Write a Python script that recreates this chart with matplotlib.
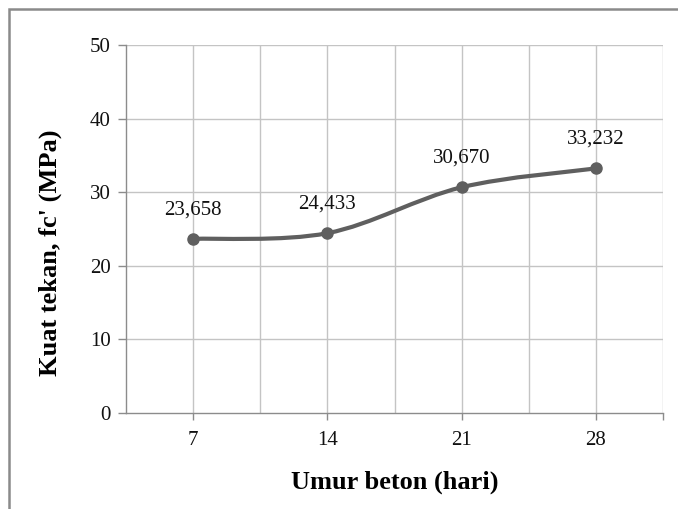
import matplotlib
matplotlib.use("Agg")
import matplotlib.pyplot as plt
from matplotlib.path import Path
from matplotlib.patches import PathPatch, Rectangle
import numpy as np

# Compressive strength by concrete age
umur = ["7", "14", "21", "28"]
kuat_tekan = [23.658, 24.433, 30.670, 33.232]
label_nilai = ["23,658", "24,433", "30,670", "33,232"]
y_ticks = [0, 10, 20, 30, 40, 50]

plt.rcParams['font.family'] = ['Liberation Serif', 'DejaVu Serif']

fig = plt.figure(figsize=(6.78, 5.09), dpi=100)
ax = fig.add_axes([126 / 678, 1 - 413 / 509, (663 - 126) / 678, (413 - 45) / 509])

x = np.arange(len(umur), dtype=float)
y = np.array(kuat_tekan)

# Smoothed line as cubic Bezier segments (Excel-style smoothing)
verts = [(x[0], y[0])]
codes = [Path.MOVETO]
n = len(x)
for i in range(n - 1):
    p0 = np.array([x[max(i - 1, 0)], y[max(i - 1, 0)]])
    p1 = np.array([x[i], y[i]])
    p2 = np.array([x[i + 1], y[i + 1]])
    p3 = np.array([x[min(i + 2, n - 1)], y[min(i + 2, n - 1)]])
    c1 = p1 + (p2 - p0) / 6.0
    c2 = p2 - (p3 - p1) / 6.0
    verts += [tuple(c1), tuple(c2), tuple(p2)]
    codes += [Path.CURVE4] * 3
line_color = "#5f5f5f"
ax.add_patch(PathPatch(Path(verts, codes), facecolor="none", edgecolor=line_color,
                       lw=3.0, capstyle="round", joinstyle="round", zorder=3))
ax.plot(x, y, linestyle="none", marker="o", ms=8, color=line_color, zorder=4)

for xi, yi, lab in zip(x, y, label_nilai):
    ax.annotate(lab, (xi, yi), xytext=(0, 21), textcoords="offset points",
                ha="center", va="center", fontsize=15, color="#111111")

ax.set_xlim(-0.5, n - 0.5)
ax.set_ylim(0, 50)
ax.set_yticks(y_ticks)
ax.set_xticks(x)
ax.set_xticklabels(umur)
ax.set_xticks([n - 0.5], minor=True)

grid_color = "#c4c4c4"
for gx in np.arange(0, n - 0.25, 0.5):
    ax.axvline(gx, color=grid_color, lw=1.0, zorder=1)
for gy in y_ticks[1:]:
    ax.axhline(gy, color=grid_color, lw=1.0, zorder=1)

for side in ["top", "right"]:
    ax.spines[side].set_visible(False)
for side in ["left", "bottom"]:
    ax.spines[side].set_color("#8c8c8c")
    ax.spines[side].set_linewidth(1.0)

ax.tick_params(axis="y", which="major", length=6, width=1.0, color="#8c8c8c",
               labelsize=15, pad=5, labelcolor="#111111")
ax.tick_params(axis="x", which="both", length=5, width=1.0, color="#8c8c8c",
               labelsize=15, pad=8, labelcolor="#111111")

ax.set_xlabel("Umur beton (hari)", fontsize=19, fontweight="bold", labelpad=15)
ax.set_ylabel("Kuat tekan, fc' (MPa)", fontsize=19, fontweight="bold")
ax.yaxis.set_label_coords(-0.119, 0.435)

# Outer chart frame
fig.patches.append(Rectangle((9 / 678, -0.05), 1.2, 1 - 9 / 509 + 0.05,
                             transform=fig.transFigure, fill=False,
                             edgecolor="#8a8a8a", lw=1.8))

fig.savefig("out.png", dpi=100)
